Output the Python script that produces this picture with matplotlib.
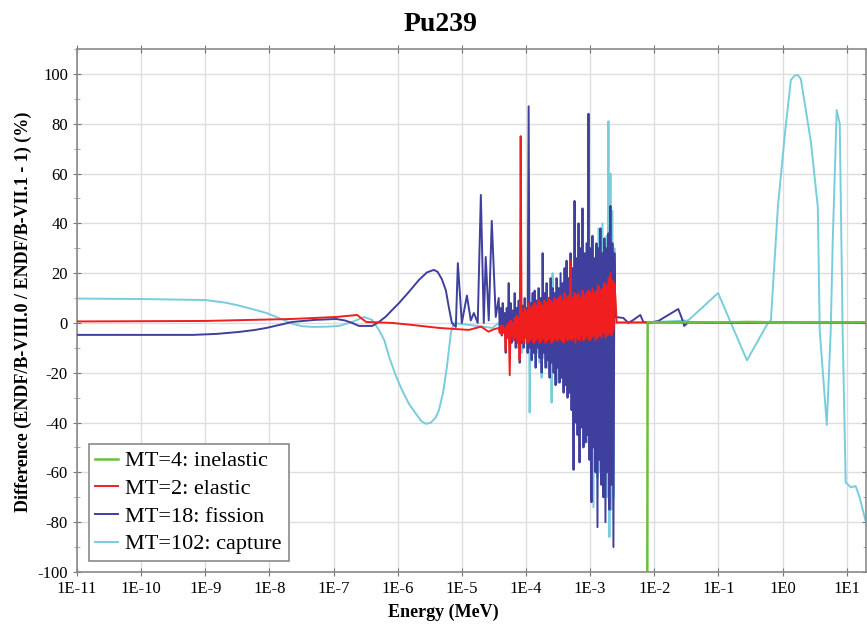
import matplotlib
matplotlib.use("Agg")
import matplotlib.pyplot as plt

# ---------------- data ----------------
x_ticks = [1e-11, 1e-10, 1e-9, 1e-8, 1e-7, 1e-6, 1e-5, 1e-4, 1e-3, 1e-2, 1e-1, 1e0, 1e1]
x_tick_labels = ["1E-11", "1E-10", "1E-9", "1E-8", "1E-7", "1E-6", "1E-5",
                 "1E-4", "1E-3", "1E-2", "1E-1", "1E0", "1E1"]
y_ticks = [-100, -80, -60, -40, -20, 0, 20, 40, 60, 80, 100]

# resonance-region energy grid (MeV): upper-swing points and lower-swing points
res_energy_up = [3.76e-5, 4.04e-5, 4.34e-5, 4.66e-5, 5.01e-5, 5.38e-5, 5.78e-5, 6.21e-5,
                 6.67e-5, 7.17e-5, 7.70e-5, 8.27e-5, 8.88e-5, 9.54e-5, 1.025e-4, 1.101e-4,
                 1.183e-4, 1.271e-4, 1.365e-4, 1.466e-4, 1.575e-4, 1.692e-4, 1.818e-4,
                 1.953e-4, 2.098e-4, 2.253e-4, 2.421e-4, 2.600e-4, 2.793e-4, 3.001e-4,
                 3.223e-4, 3.463e-4, 3.720e-4, 3.996e-4, 4.293e-4, 4.611e-4, 4.955e-4,
                 5.322e-4, 5.717e-4, 6.142e-4, 6.598e-4, 7.088e-4, 7.614e-4, 8.180e-4,
                 8.787e-4, 9.440e-4, 1.014e-3, 1.089e-3, 1.170e-3, 1.257e-3, 1.350e-3,
                 1.450e-3, 1.558e-3, 1.674e-3, 1.798e-3, 1.932e-3, 2.075e-3, 2.229e-3,
                 2.394e-3]
res_energy_lo = [3.90e-5, 4.19e-5, 4.50e-5, 4.83e-5, 5.19e-5, 5.58e-5, 5.99e-5, 6.44e-5,
                 6.92e-5, 7.43e-5, 7.98e-5, 8.57e-5, 9.21e-5, 9.89e-5, 1.062e-4, 1.141e-4,
                 1.226e-4, 1.317e-4, 1.415e-4, 1.520e-4, 1.632e-4, 1.754e-4, 1.884e-4,
                 2.024e-4, 2.174e-4, 2.335e-4, 2.509e-4, 2.695e-4, 2.895e-4, 3.110e-4,
                 3.341e-4, 3.589e-4, 3.855e-4, 4.142e-4, 4.449e-4, 4.779e-4, 5.134e-4,
                 5.516e-4, 5.925e-4, 6.365e-4, 6.838e-4, 7.346e-4, 7.891e-4, 8.477e-4,
                 9.107e-4, 9.783e-4, 1.051e-3, 1.129e-3, 1.213e-3, 1.303e-3, 1.399e-3,
                 1.503e-3, 1.615e-3, 1.735e-3, 1.864e-3, 2.002e-3, 2.151e-3, 2.311e-3]

# MT=4 inelastic
inel_energy = [7.80e-3, 7.90e-3, 2.0e-2, 1.0e-1, 3.0e-1, 1.0, 3.0, 8.0, 20.0]
inel_diff = [-100, 0.3, 0.3, 0.2, 0.4, 0.2, 0.3, 0.2, 0.3]

# MT=2 elastic
el_low_energy = [1e-11, 1e-9, 2.28e-8, 1.10e-7, 2.33e-7, 3.22e-7, 8.2e-7, 1.67e-6,
                 4.4e-6, 1.28e-5, 2.0e-5, 2.6e-5, 3.2e-5]
el_low_diff = [0.6, 0.8, 1.6, 2.4, 3.2, 0.4, 0.0, -0.8, -2.0, -2.8, -1.5, -3.5, -2.5]
el_res_up = [-2, -1, -1, -2, -1, 0, 1, 0, 2, 3, 2, 75, 4, 6, 5, 8,
             6, 7, 8, 7, 9, 8, 7, 9, 8, 10, 9, 8, 10, 9,
             10, 11, 9, 12, 10, 11, 25, 10, 12, 11, 12, 10, 13, 11,
             12, 13, 12, 14, 12, 13, 15, 13, 14, 16, 15, 18, 20, 17, 16]
el_res_lo = [-4, -5, -4, -11, -6, -21, -5, -7, -6, -8, -15, -7, -8, -6, -8, -7,
             -6, -8, -7, -6, -8, -7, -6, -8, -7, -6, -8, -7, -6, -7,
             -6, -7, -8, -6, -7, -6, -7, -6, -8, -6, -7, -5, -7, -6,
             -5, -7, -6, -5, -7, -6, -5, -6, -4, -6, -5, -4, -5, -3]
el_high_energy = [2.48e-3, 2.6e-3, 1.0e-2, 1.0e-1, 1.0, 20.0]
el_high_diff = [10, 0.2, 0.2, 0.1, 0.2, 0.2]

# MT=18 fission
fis_low_energy = [1e-11, 6.4e-10, 1.5e-9, 3.4e-9, 6.0e-9, 9.0e-9, 1.5e-8, 2.28e-8,
                  5.0e-8, 1.10e-7, 1.5e-7, 1.95e-7, 2.5e-7, 4.0e-7, 5.1e-7, 6.5e-7,
                  8.2e-7, 1.05e-6, 1.5e-6, 2.15e-6, 2.86e-6, 3.67e-6, 4.2e-6, 4.9e-6,
                  5.65e-6, 6.2e-6, 7.0e-6, 8.07e-6, 8.67e-6, 1.0e-5, 1.2e-5,
                  1.38e-5, 1.54e-5, 1.77e-5, 1.98e-5, 2.2e-5, 2.36e-5, 2.63e-5,
                  2.93e-5, 3.38e-5]
fis_low_diff = [-4.8, -4.8, -4.4, -3.6, -2.8, -2.0, -0.7, 0.4, 1.2, 1.6, 1.0, 0.0,
                -1.2, -1.2, 0.4, 2.5, 5.2, 8.0, 12.5, 17.3, 20.3, 21.3, 20.5, 17.5,
                13.0, 7.0, 0.0, -1.6, 24.0, 0.0, 11.0, 1.0, 4.0, 0.0, 51.4, 0.0, 26.5,
                1.0, 41.0, 2.4]
fis_res_up = [10, 6, 8, 4, 6, 16, 8, 5, 12, 6, 9, 5, 7, 10, 6, 87,
              8, 12, 13, 9, 14, 10, 28, 12, 16, 10, 18, 14, 12, 18,
              14, 20, 16, 22, 25, 18, 28, 22, 49, 26, 40, 30, 46, 28,
              32, 84, 30, 35, 26, 32, 30, 38, 28, 34, 30, 36, 47, 32, 28]
fis_res_lo = [-2, -5, -3, -12, -4, -6, -8, -5, -10, -6, -16, -8, -10, -6, -12, -10,
              -15, -12, -18, -10, -14, -20, -12, -18, -15, -22, -16, -20, -25, -18,
              -24, -22, -28, -25, -30, -28, -35, -59, -40, -45, -56, -42, -50, -48,
              -45, -55, -72, -50, -60, -82, -55, -65, -70, -80, -60, -75, -65, -90]
fis_high_energy = [2.48e-3, 3.30e-3, 3.95e-3, 4.72e-3, 6.07e-3, 6.76e-3, 8.07e-3,
                   1.16e-2, 2.37e-2, 2.83e-2, 2.93e-2, 3.4e-2, 1.0e-1, 1.0, 20.0]
fis_high_diff = [2.4, 2.0, 0.0, 1.2, 3.2, 0.4, 0.0, 0.8, 5.6, 0.4, -1.2, 0.3, 0.0,
                 0.3, 0.0]

# MT=102 capture
cap_low_energy = [1e-11, 1e-10, 1e-9, 2.0e-9, 3.07e-9, 5.0e-9, 9.0e-9, 1.4e-8,
                  2.28e-8, 3.2e-8, 4.66e-8, 8.0e-8, 1.22e-7, 1.95e-7, 3.0e-7,
                  3.99e-7, 5.1e-7, 6.2e-7, 7.35e-7, 9.3e-7, 1.17e-6, 1.5e-6,
                  1.93e-6, 2.35e-6, 2.76e-6, 3.3e-6, 3.9e-6, 4.4e-6, 5.1e-6,
                  5.85e-6, 6.75e-6, 7.5e-6, 1.5e-5, 3.0e-5]
cap_low_diff = [9.8, 9.6, 9.2, 8.2, 7.2, 5.8, 4.0, 2.0, -0.3, -1.3, -1.6, -1.5,
                -1.2, 0.4, 2.4, 1.2, -2.8, -7.0, -13.6, -21.0, -27.0, -32.5, -36.5,
                -39.5, -40.5, -40.0, -38.0, -35.0, -28.0, -17.7, -4.0, 0.0, -1.0,
                -2.0]
cap_res_up = [0, 1, 0, 2, 1, 3, 2, 2, 3, 4, 3, 3, 4, 5, 4, 41,
              5, 4, 6, 5, 8, 6, 8, 6, 9, 10, 8, 20, 9, 8,
              10, 10, 12, 12, 14, 15, 14, 12, 16, 18, 16, 22, 20, 25,
              22, 20, 24, 28, 25, 30, 38, 28, 40, 32, 35, 81, 60, 45, 30]
cap_res_lo = [-1, -3, -2, -5, -4, -8, -5, -6, -8, -10, -9, -12, -10, -8, -12, -36,
              -10, -12, -14, -12, -16, -22, -14, -16, -18, -20, -32, -18, -20, -24,
              -22, -20, -26, -24, -30, -28, -26, -30, -32, -35, -38, -40, -42, -45,
              -48, -50, -55, -74, -58, -62, -60, -65, -62, -68, -70, -86, -75, -70]
cap_high_energy = [2.48e-3, 1.0e-2, 3.38e-2, 0.099, 0.279, 0.593, 0.659, 0.847,
                   1.09, 1.35, 1.55, 1.73, 1.93, 2.76, 3.55, 3.80, 4.90, 5.65, 6.07,
                   7.0, 7.8, 8.67, 9.66, 11.6, 13.8, 15.9, 20.0]
cap_high_diff = [0.0, 0.3, 1.0, 12.0, -15.0, 0.0, 1.0, 46.6, 76.0, 97.6, 99.3,
                 99.6, 98.0, 73.0, 46.6, -2.8, -41.0, -2.8, 33.0, 85.5, 80.0, -4.0,
                 -64.0, -66.0, -65.5, -70.0, -80.0]

labels = ["MT=4: inelastic", "MT=2: elastic", "MT=18: fission", "MT=102: capture"]
colors = ["#6cbf3c", "#f01e1e", "#3f3f9e", "#78cddc"]


def join(low_e, low_v, v_up, v_lo, high_e, high_v):
    res = sorted(list(zip(res_energy_up, v_up)) + list(zip(res_energy_lo, v_lo)))
    e = list(low_e) + [p[0] for p in res] + list(high_e)
    v = list(low_v) + [p[1] for p in res] + list(high_v)
    return e, v


# ---------------- plot ----------------
plt.rcParams["font.family"] = ["Liberation Serif", "DejaVu Serif"]
plt.rcParams["axes.unicode_minus"] = False

fig = plt.figure(figsize=(8.67, 6.39), dpi=100)
ax = fig.add_axes([0.0888, 0.1049, 0.9100, 0.8184])

cap_E, cap_V = join(cap_low_energy, cap_low_diff, cap_res_up, cap_res_lo,
                    cap_high_energy, cap_high_diff)
fis_E, fis_V = join(fis_low_energy, fis_low_diff, fis_res_up, fis_res_lo,
                    fis_high_energy, fis_high_diff)
el_E, el_V = join(el_low_energy, el_low_diff, el_res_up, el_res_lo,
                  el_high_energy, el_high_diff)

h_cap, = ax.plot(cap_E, cap_V, color=colors[3], lw=1.4, zorder=2)
h_fis, = ax.plot(fis_E, fis_V, color=colors[2], lw=1.4, zorder=3)
h_el, = ax.plot(el_E, el_V, color=colors[1], lw=1.4, zorder=4)
h_in, = ax.plot(inel_energy, inel_diff, color=colors[0], lw=1.8, zorder=5)

ax.set_xscale("log")
ax.set_xlim(1e-11, 2e1)
ax.set_ylim(-100, 110)
ax.set_xticks(x_ticks)
ax.set_xticklabels(x_tick_labels)
ax.xaxis.set_minor_locator(matplotlib.ticker.NullLocator())
ax.set_yticks(y_ticks)
ax.yaxis.set_minor_locator(matplotlib.ticker.MultipleLocator(10))
ax.grid(True, which="major", color="#dedede", lw=1.0)
ax.set_axisbelow(True)
ax.tick_params(axis="both", which="major", labelsize=12, direction="inout",
               length=6, color="#777777", top=True, right=True)
ax.tick_params(axis="y", which="minor", direction="inout", length=4,
               color="#999999", right=True)
for s in ax.spines.values():
    s.set_color("#8a8a8a")
    s.set_linewidth(1.2)

fig.text(0.511, 0.042, "Energy (MeV)", ha="center", va="center", fontsize=13,
         fontweight="bold")
fig.text(0.0265, 0.512, "Difference (ENDF/B-VIII.0 / ENDF/B-VII.1 - 1) (%)",
         ha="center", va="center", rotation=90, fontsize=13, fontweight="bold")
fig.text(0.508, 0.962, "Pu239", ha="center", va="center", fontsize=20,
         fontweight="bold")

leg = ax.legend([h_in, h_el, h_fis, h_cap], labels, loc="lower left",
                bbox_to_anchor=(0.015, 0.021), borderaxespad=0, fontsize=16,
                fancybox=False, framealpha=1, edgecolor="#8a8a8a",
                handlelength=1.0, handletextpad=0.35, labelspacing=0.32,
                borderpad=0.3)
leg.get_frame().set_linewidth(1.2)

fig.savefig("out.png", dpi=100)
